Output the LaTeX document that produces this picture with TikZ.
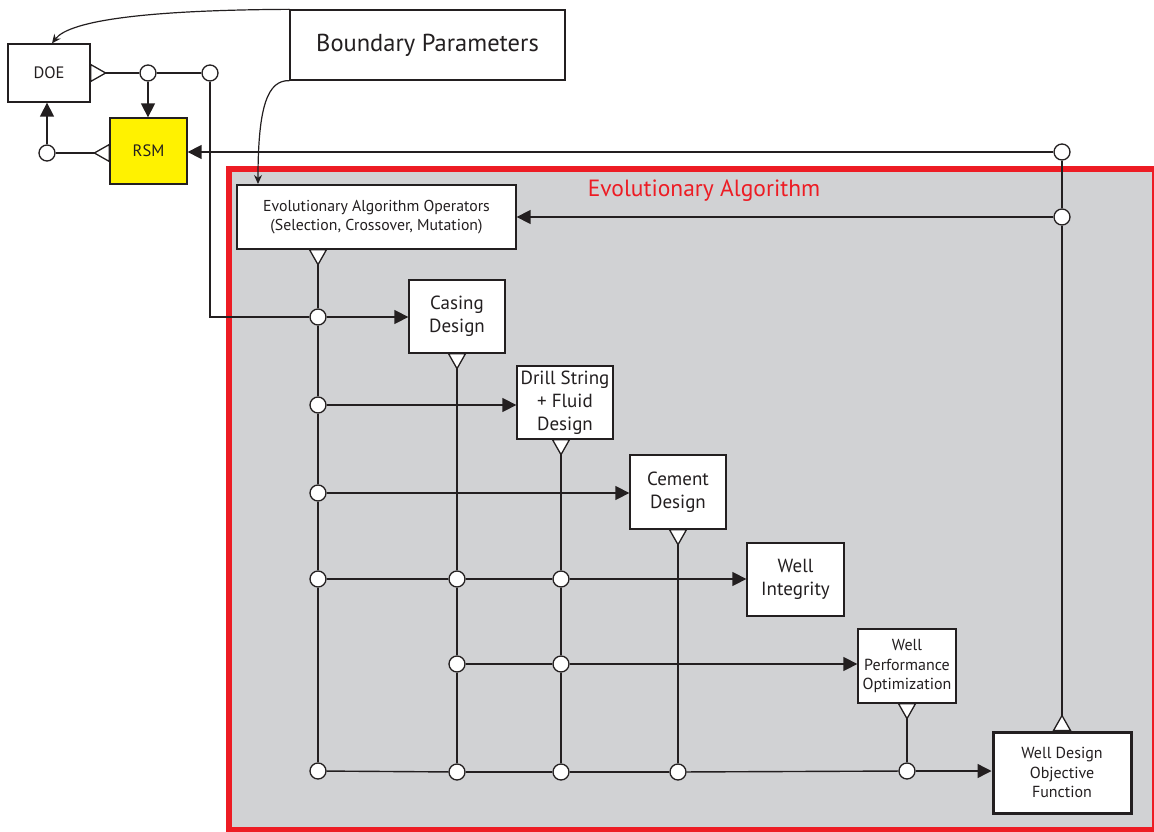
\documentclass[tikz,border=0pt]{standalone}
\usepackage{fontspec}
\setmainfont{PT Sans}
\usetikzlibrary{arrows.meta}
\definecolor{eagray}{HTML}{D1D2D4}
\definecolor{eared}{HTML}{ED1C24}
\definecolor{rsmyellow}{HTML}{FFF200}
\definecolor{ink}{HTML}{231F20}

\begin{document}
\begin{tikzpicture}[x=1pt,y=-1pt,
  box/.style={draw=ink, line width=1.3pt, fill=white, align=center, inner sep=2pt, text=ink},
  bigtext/.style={font=\fontsize{19}{23}\selectfont},
  midtext/.style={font=\fontsize{16}{19.5}\selectfont},
  dot/.style={circle, draw=ink, line width=1.3pt, fill=white, minimum size=16pt, inner sep=0pt},
  wire/.style={line width=1.4pt, draw=ink},
  feed/.style={wire, -{Triangle[length=14pt,width=14pt]}},
  curvelink/.style={line width=1.2pt, draw=ink, -{Stealth[length=9pt,width=8pt]}},
  outmark/.style={fill=white, draw=ink, line width=1.3pt, line join=miter},
  tridown/.pic={\filldraw[outmark] (-8.5,0) -- (8.5,0) -- (0,15) -- cycle;},
  triup/.pic={\filldraw[outmark] (-8.5,0) -- (8.5,0) -- (0,-15) -- cycle;},
  triright/.pic={\filldraw[outmark] (0,-8.5) -- (0,8.5) -- (15,0) -- cycle;},
  trileft/.pic={\filldraw[outmark] (0,-8.5) -- (0,8.5) -- (-15,0) -- cycle;},
]
\useasboundingbox (0,0) rectangle (1154,832);

% Evolutionary algorithm frame
\draw[fill=eagray, draw=eared, line width=6pt] (229,169) rectangle (1155,830);
\node[text=eared, font=\fontsize{23.5}{27}\selectfont] (eatitle) at (704,191) {Evolutionary Algorithm};

% Blocks
\node[box, font=\fontsize{16.5}{20}\selectfont, minimum width=82pt, minimum height=58pt] (doe) at (49,73) {DOE};
\node[box, font=\fontsize{16.5}{20}\selectfont, fill=rsmyellow, minimum width=77pt, minimum height=66pt] (rsm) at (148.5,151) {RSM};
\node[box, font=\fontsize{24.5}{28}\selectfont, minimum width=275pt, minimum height=70pt] (bp) at (427.5,45) {Boundary Parameters};
\node[box, font=\fontsize{15.8}{19}\selectfont, minimum width=279pt, minimum height=64pt] (eao) at (376.5,217)
  {Evolutionary Algorithm Operators\\(Selection, Crossover, Mutation)};
\node[box, bigtext, minimum width=96pt, minimum height=73pt] (casing) at (457,316.5) {Casing\\Design};
\node[box, bigtext, minimum width=96pt, minimum height=73pt] (drill) at (565,402.5) {Drill String\\+ Fluid\\Design};
\node[box, bigtext, minimum width=96pt, minimum height=74pt] (cement) at (678,492) {Cement\\Design};
\node[box, bigtext, minimum width=97pt, minimum height=73pt] (integ) at (795.5,579.5) {Well\\Integrity};
\node[box, midtext, minimum width=98pt, minimum height=74pt] (wpo) at (907,666) {Well\\Performance\\Optimization};
\node[box, midtext, line width=3pt, minimum width=138pt, minimum height=81pt] (wdo) at (1062,772.5)
  {Well Design\\Objective\\Function};

% Junctions
\node[dot] (a1) at (148,73) {};
\node[dot] (a2) at (210,73) {};
\node[dot] (a3) at (47,153) {};
\node[dot] (t1) at (1062,152) {};
\node[dot] (t2) at (1062,217) {};
\node[dot] (p1) at (318,317) {};
\node[dot] (p2) at (318,405) {};
\node[dot] (p3) at (318,493) {};
\node[dot] (p4) at (318,579) {};
\node[dot] (p5) at (318,771) {};
\node[dot] (q4) at (457,579) {};
\node[dot] (q6) at (457,664) {};
\node[dot] (q7) at (457,772) {};
\node[dot] (r4) at (561,579) {};
\node[dot] (r6) at (561,664) {};
\node[dot] (r7) at (561,772) {};
\node[dot] (s7) at (678,772) {};
\node[dot] (w7) at (907,771) {};

% DOE / RSM loop
\draw[wire] (doe.east) -- (a1);
\draw[wire] (a1) -- (a2);
\draw[feed] (a1) -- (rsm.north -| a1);
\draw[wire] (rsm.west |- a3) -- (a3);
\draw[feed] (a3) -- (doe.south -| a3);
\draw[wire] (a2) |- (p1);
\pic at (doe.east) {triright};
\pic at (rsm.west |- a3) {trileft};

% Boundary parameters
\draw[curvelink] (bp.north west) .. controls (150,10) and (70,20) .. ([xshift=3pt]doe.north);
\draw[curvelink] (bp.south west) .. controls (268,80) and (258,105) .. (258,184);

% Objective feedback
\draw[feed] (t1) -- (rsm.east |- t1);
\draw[wire] (t1) -- (t2);
\draw[feed] (t2) -- (eao.east |- t2);
\draw[wire] (wdo.north) -- (t2);
\pic at (wdo.north) {triup};

% Operators distribute to the design modules
\draw[wire] (p1 |- eao.south) -- (p1);
\pic at (p1 |- eao.south) {tridown};
\draw[wire] (p1) -- (p2);
\draw[wire] (p2) -- (p3);
\draw[wire] (p3) -- (p4);
\draw[wire] (p4) -- (p5);
\draw[feed] (p1) -- (casing.west |- p1);
\draw[feed] (p2) -- (drill.west |- p2);
\draw[feed] (p3) -- (cement.west |- p3);
\draw[wire] (p4) -- (q4);
\draw[wire] (q4) -- (r4);
\draw[feed] (r4) -- (integ.west |- r4);

% Casing design output
\draw[wire] (q4 |- casing.south) -- (q4);
\pic at (q4 |- casing.south) {tridown};
\draw[wire] (q4) -- (q6);
\draw[wire] (q6) -- (q7);

% Drill string output
\draw[wire] (r4 |- drill.south) -- (r4);
\pic at (r4 |- drill.south) {tridown};
\draw[wire] (r4) -- (r6);
\draw[wire] (r6) -- (r7);
\draw[wire] (q6) -- (r6);
\draw[feed] (r6) -- (wpo.west |- r6);

% Cement and performance outputs
\draw[wire] (s7 |- cement.south) -- (s7);
\pic at (s7 |- cement.south) {tridown};
\draw[wire] (w7 |- wpo.south) -- (w7);
\pic at (w7 |- wpo.south) {tridown};

% Collection into the objective function
\draw[wire] (p5) -- (q7);
\draw[wire] (q7) -- (r7);
\draw[wire] (r7) -- (s7);
\draw[wire] (s7) -- (w7);
\draw[feed] (w7) -- (wdo.west |- w7);
\end{tikzpicture}
\end{document}
